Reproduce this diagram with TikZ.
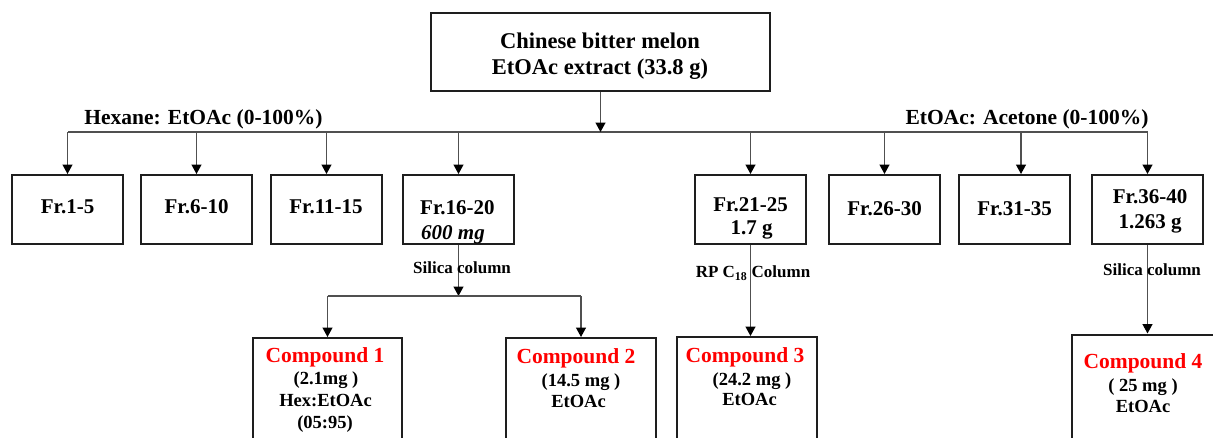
\documentclass[tikz,border=0pt]{standalone}
\usepackage{fontspec}
\setmainfont{Liberation Serif}
\usetikzlibrary{arrows.meta}
\definecolor{wire}{HTML}{505050}
\definecolor{frame}{HTML}{1E1E1E}
\definecolor{cpd}{HTML}{FF0000}
\begin{document}
\begin{tikzpicture}[x=1pt,y=-1pt,
  box/.style={draw=frame, line width=2pt, inner sep=0pt, fill=white},
  frbox/.style={box, minimum width=111pt, minimum height=69pt},
  link/.style={draw=wire, line width=1.3pt},
  arr/.style={link, -{Triangle[length=9.5pt,width=10pt,color=black,fill=black]}},
  big/.style={font=\fontsize{22.5}{26}\selectfont\bfseries, inner sep=0pt, anchor=base},
  fr/.style={font=\fontsize{21}{25}\selectfont\bfseries, inner sep=0pt, anchor=base},
  small/.style={font=\fontsize{17}{20}\selectfont\bfseries, inner sep=0pt, anchor=base},
  ctitle/.style={font=\fontsize{21.5}{25}\selectfont\bfseries, text=cpd, inner sep=0pt, anchor=base},
  cinfo/.style={font=\fontsize{18.5}{22}\selectfont\bfseries, inner sep=0pt, anchor=base}]
\path[use as bounding box] (0,0) rectangle (1213,437);
\clip (0,0) rectangle (1213,437);

% crude extract
\node[box, minimum width=339pt, minimum height=78pt] (top) at (600.5,52) {};
\node[big] (topa) at (600,48.5) {Chinese bitter melon};
\node[big] (topb) at (600,74.5) {EtOAc extract (33.8 g)};

% fraction boxes
\node[frbox] (f1) at (67.5,209.5) {};
\node[frbox] (f2) at (196.5,209.5) {};
\node[frbox] (f3) at (326.5,209.5) {};
\node[frbox] (f4) at (458.5,209.5) {};
\node[frbox] (f5) at (750.5,209.5) {};
\node[frbox] (f6) at (884.5,209.5) {};
\node[frbox] (f7) at (1014.5,209.5) {};
\node[frbox] (f8) at (1147.5,209.5) {};

\node[fr] (t1) at (67.5,213.5) {Fr.1-5};
\node[fr] (t2) at (196.5,213.5) {Fr.6-10};
\node[fr] (t3) at (326,213.5) {Fr.11-15};
\node[fr, anchor=base west] (t4a) at (420,214) {Fr.16-20};
\node[fr, anchor=base west, font=\fontsize{21}{25}\selectfont\bfseries\itshape] (t4b) at (421,239) {600 mg};
\node[fr] (t5a) at (750.5,211) {Fr.21-25};
\node[fr] (t5b) at (751.5,234) {1.7 g};
\node[fr] (t6) at (884.5,215) {Fr.26-30};
\node[fr] (t7) at (1014.5,215) {Fr.31-35};
\node[fr] (t8a) at (1150,203.5) {Fr.36-40};
\node[fr] (t8b) at (1150,228) {1.263 g};

% gradient elution bus
\coordinate (busL) at (68,132);
\coordinate (busR) at (1148,132);
\draw[link] (busL) -- (busR);
\draw[arr] (top.south) -- (top.south |- busL);
\node[fr, font=\fontsize{21.5}{25}\selectfont\bfseries] (hexlbl) at (203.5,124) {Hexane: EtOAc (0-100\%)};
\node[fr, font=\fontsize{21.5}{25}\selectfont\bfseries] (acelbl) at (1027,124) {EtOAc: Acetone (0-100\%)};

\foreach \f in {f1,f2,f3,f4,f5,f6,f8}
  \draw[arr] (\f.north |- busL) -- (\f.north);
\coordinate (d7) at (1021,132);
\draw[arr] (d7) -- (d7 |- f7.north);

% compound boxes (running past the lower edge)
\node[box, minimum width=149pt, minimum height=140pt, anchor=north] (c1) at (327.5,337) {};
\node[box, minimum width=150pt, minimum height=140pt, anchor=north] (c2) at (581,337) {};
\node[box, minimum width=140pt, minimum height=140pt, anchor=north] (c3) at (747,336) {};
\node[box, minimum width=142pt, minimum height=140pt, anchor=north] (c4) at (1143,333.5) {};

% silica split of Fr.16-20
\coordinate (sp) at (458.5,296);
\coordinate (spL) at (327.5,296);
\coordinate (spR) at (581,296);
\draw[arr] (f4.south) -- (sp);
\node[small] (sil1) at (462,273) {Silica column};
\draw[link] (spL) -- (spR);
\draw[arr] (spL) -- (c1.north);
\draw[arr] (spR) -- (c2.north);

% RP column for Fr.21-25
\draw[arr] (f5.south) -- (f5.south |- c3.north);
\node[small] (rp) at (753,277.5) {RP C\textsubscript{18} Column};

% silica column for Fr.36-40
\draw[arr] (f8.south) -- (c4.north -| f8.south);
\node[small] (sil2) at (1152,275) {Silica column};

% compound labels
\node[ctitle] (c1a) at (325,362) {Compound 1};
\node[cinfo] (c1b) at (326,384) {(2.1mg )};
\node[cinfo] (c1c) at (325.5,406.5) {Hex:EtOAc};
\node[cinfo] (c1d) at (325,428.5) {(05:95)};

\node[ctitle] (c2a) at (576,363) {Compound 2};
\node[cinfo] (c2b) at (581,386.5) {(14.5 mg )};
\node[cinfo] (c2c) at (578.5,407.5) {EtOAc};

\node[ctitle] (c3a) at (745,362) {Compound 3};
\node[cinfo] (c3b) at (752,385) {(24.2 mg )};
\node[cinfo] (c3c) at (749.5,405.5) {EtOAc};

\node[ctitle] (c4a) at (1143,368) {Compound 4};
\node[cinfo] (c4b) at (1143,391.5) {( 25 mg )};
\node[cinfo] (c4c) at (1143,412) {EtOAc};
\end{tikzpicture}
\end{document}
